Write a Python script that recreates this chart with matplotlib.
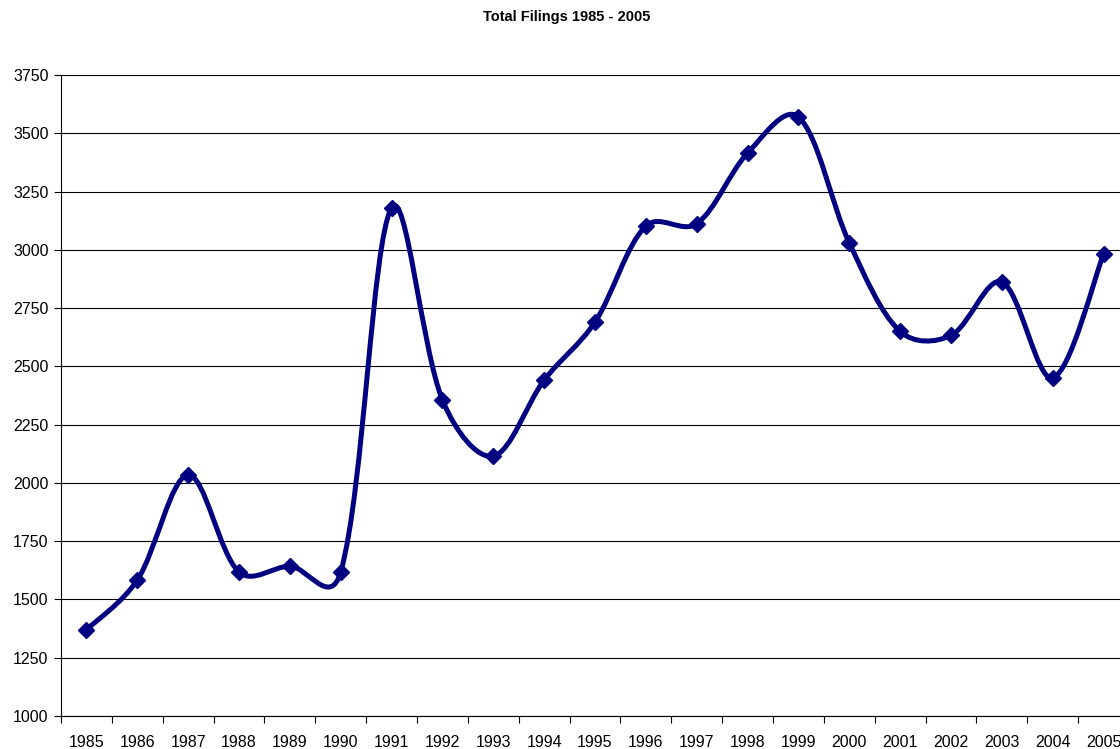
import matplotlib
matplotlib.use('Agg')
import matplotlib.pyplot as plt
from matplotlib.path import Path
from matplotlib.patches import PathPatch

# Data
years = [1985, 1986, 1987, 1988, 1989, 1990, 1991, 1992, 1993, 1994, 1995,
         1996, 1997, 1998, 1999, 2000, 2001, 2002, 2003, 2004, 2005]
filings = [1370, 1583, 2034, 1618, 1643, 1618, 3180, 2356, 2115, 2441, 2690,
           3102, 3112, 3415, 3570, 3030, 2650, 2633, 2862, 2450, 2982]
yticks = [1000, 1250, 1500, 1750, 2000, 2250, 2500, 2750, 3000, 3250, 3500, 3750]

plt.rcParams['font.family'] = ['Liberation Sans', 'DejaVu Sans']

fig = plt.figure(figsize=(11.2, 7.49), dpi=100)
ax = fig.add_axes([61/1120, 33/749, 1068/1120, 641/749])
ax.set_xlim(-0.5, len(years) - 0.5)
ax.set_ylim(1000, 3750)

# smoothed line, Excel style: bezier with control points partly weighted by
# segment lengths measured on screen
xs = list(range(len(years)))
sx = 1068.0 / len(years)      # px per category
sy = 641.0 / 2750.0           # px per filing

def dist(a, b):
    return ((sx * (b[0] - a[0])) ** 2 + (sy * (b[1] - a[1])) ** 2) ** 0.5

pts = list(zip(xs, filings))
verts = [pts[0]]
codes = [Path.MOVETO]
n = len(pts)
for i in range(n - 1):
    p0 = pts[max(i - 1, 0)]
    p1 = pts[i]
    p2 = pts[i + 1]
    p3 = pts[min(i + 2, n - 1)]
    d01, d12, d23 = dist(p0, p1), dist(p1, p2), dist(p2, p3)
    f1 = d12 / (d01 + d12) / 3.0 if d01 > 0 else 1 / 6.0
    f2 = d12 / (d12 + d23) / 3.0 if d23 > 0 else 1 / 6.0
    f1 = 0.5 * f1 + 0.5 / 6.0
    f2 = 0.5 * f2 + 0.5 / 6.0
    c1 = (p1[0] + (p2[0] - p0[0]) * f1, p1[1] + (p2[1] - p0[1]) * f1)
    c2 = (p2[0] - (p3[0] - p1[0]) * f2, p2[1] - (p3[1] - p1[1]) * f2)
    verts += [c1, c2, p2]
    codes += [Path.CURVE4, Path.CURVE4, Path.CURVE4]
patch = PathPatch(Path(verts, codes), facecolor='none', edgecolor='#000080',
                  linewidth=3.6, capstyle='round', joinstyle='round', zorder=3)
ax.add_patch(patch)
ax.plot(xs, filings, linestyle='none', marker='D', markersize=8,
        color='#000080', zorder=4)

ax.set_yticks(yticks)
ax.yaxis.grid(True, color='black', linewidth=0.8)
ax.set_axisbelow(True)

ax.set_xticks([i - 0.5 for i in range(len(years) + 1)])
ax.set_xticklabels([])
ax.set_xticks(xs, minor=True)
ax.set_xticklabels([str(y) for y in years], minor=True)
ax.tick_params(axis='x', which='major', direction='out', length=5, width=0.8)
ax.tick_params(axis='x', which='minor', length=0, pad=13.5, labelsize=11.5)
ax.tick_params(axis='y', direction='out', length=5, width=0.8, pad=4, labelsize=11.5)

ax.spines['top'].set_visible(False)
ax.spines['right'].set_visible(False)
ax.spines['left'].set_linewidth(0.8)
ax.spines['bottom'].set_linewidth(0.8)

fig.text(567/1120, 1 - 17/749, 'Total Filings 1985 - 2005', ha='center', va='center',
         fontsize=10.5, fontweight='bold')

fig.savefig('out.png', dpi=100)
